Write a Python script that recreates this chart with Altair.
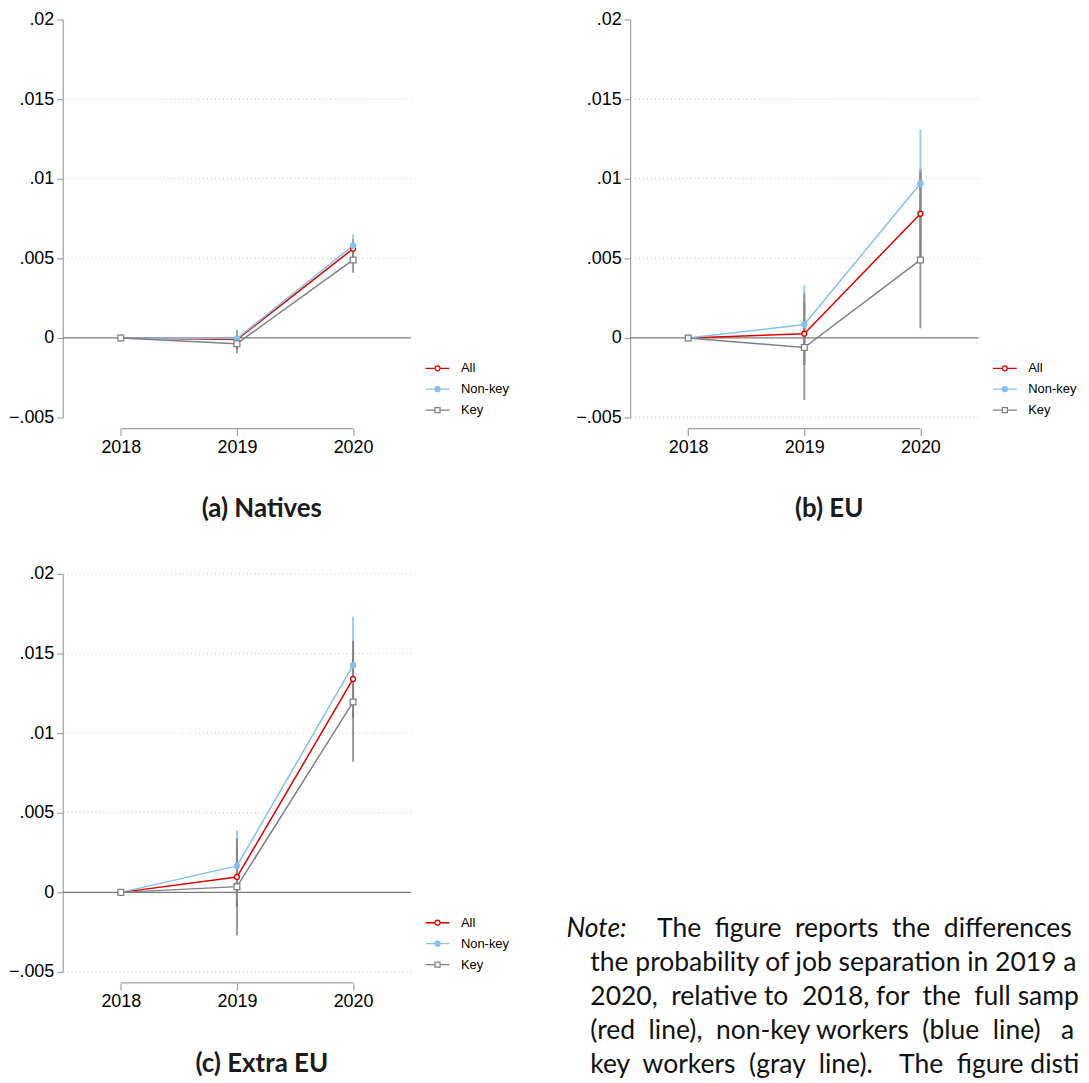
import altair as alt
import pandas as pd

YEARS = [2018, 2019, 2020]
SERIES = ["All", "Non-key", "Key"]
COLORS = ["#e00000", "#85c1ea", "#808080"]

# (a) Natives
NAT_ALL = [0.0, -0.0001, 0.0056]
NAT_ALL_LO = [0.0, -0.0007, 0.0050]
NAT_ALL_HI = [0.0, 0.0005, 0.0062]
NAT_NONKEY = [0.0, -0.00004, 0.0058]
NAT_NONKEY_LO = [0.0, -0.0006, 0.0051]
NAT_NONKEY_HI = [0.0, 0.0005, 0.0065]
NAT_KEY = [0.0, -0.00036, 0.0049]
NAT_KEY_LO = [0.0, -0.00095, 0.0041]
NAT_KEY_HI = [0.0, 0.0002, 0.0057]
NAT_GRID = [0.005, 0.01, 0.015]

# (b) EU
EU_ALL = [0.0, 0.00027, 0.0078]
EU_ALL_LO = [0.0, -0.0017, 0.0050]
EU_ALL_HI = [0.0, 0.0022, 0.0106]
EU_NONKEY = [0.0, 0.00084, 0.0097]
EU_NONKEY_LO = [0.0, -0.0016, 0.0063]
EU_NONKEY_HI = [0.0, 0.0033, 0.0131]
EU_KEY = [0.0, -0.0006, 0.0049]
EU_KEY_LO = [0.0, -0.0039, 0.0006]
EU_KEY_HI = [0.0, 0.0028, 0.0104]
EU_GRID = [-0.005, 0.005, 0.01, 0.015]

# (c) Extra EU
XEU_ALL = [0.0, 0.00096, 0.0134]
XEU_ALL_LO = [0.0, -0.0009, 0.0110]
XEU_ALL_HI = [0.0, 0.0028, 0.0157]
XEU_NONKEY = [0.0, 0.00166, 0.01426]
XEU_NONKEY_LO = [0.0, -0.0006, 0.0113]
XEU_NONKEY_HI = [0.0, 0.0039, 0.0173]
XEU_KEY = [0.0, 0.00036, 0.01195]
XEU_KEY_LO = [0.0, -0.0027, 0.0082]
XEU_KEY_HI = [0.0, 0.0034, 0.0158]
XEU_GRID = [-0.005, 0.005, 0.01, 0.015, 0.02]

Y_TICKS = [-0.005, 0.0, 0.005, 0.01, 0.015, 0.02]
TITLES = ["(a) Natives", "(b) EU", "(c) Extra EU"]

NB = "\u00a0"
NOTE_HEAD = "Note:"
NOTE_LINE1 = ["The", "figure", "reports", "the", "differences", "in"]
NOTE_LINE1_GAPS = [2, 2, 2, 2, 2]
NOTE_LINES = [
    ["the", "probability", "of", "job", "separation", "in", "2019", "and"],
    ["2020,", "relative", "to", "2018,", "for", "the", "full", "sample"],
    ["(red", "line),", "non-key", "workers", "(blue", "line)", "and"],
    ["key", "workers", "(gray", "line).", "The", "figure", "distinguishes"],
]
NOTE_GAPS = [
    [1, 1, 1, 1, 1, 1, 1],
    [2, 1, 2, 1, 2, 2, 1],
    [2, 2, 1, 2, 2, 3],
    [2, 2, 2, 4, 2, 1],
]

W, H = 350, 400
AXC = "#a0a0a0"
TICK_FONT = "Liberation Sans"


def make_df(est, lo, hi):
    rows = []
    for s, e, l, h in zip(SERIES, est, lo, hi):
        for yr, ev, lv, hv in zip(YEARS, e, l, h):
            rows.append({"year": yr, "series": s, "est": ev, "lo": lv, "hi": hv})
    return pd.DataFrame(rows)


xs = alt.Scale(domain=[2017.5, 2020.5], nice=False, zero=False)
ys = alt.Scale(domain=[-0.005, 0.02], nice=False, zero=False)
cs = alt.Scale(domain=SERIES, range=COLORS)

LINE = "M-2.4,0H-0.55M0.55,0H2.4"
CIRC = "M0.5,0A0.5,0.5,0,1,1,-0.5,0A0.5,0.5,0,1,1,0.5,0Z"
DISK = ("M-2.4,0H2.4M0.5,0A0.5,0.5,0,1,1,-0.5,0A0.5,0.5,0,1,1,0.5,0Z"
        "M0.28,0A0.28,0.28,0,1,1,-0.28,0A0.28,0.28,0,1,1,0.28,0Z"
        "M0.08,0A0.08,0.08,0,1,1,-0.08,0A0.08,0.08,0,1,1,0.08,0Z")
SQR = "M-0.5,-0.5H0.5V0.5H-0.5Z"
PATHS = [LINE + CIRC, DISK, LINE + SQR]

LEGEND = alt.Legend(
    orient="none", legendX=370, legendY=344, title=None,
    labelFont=TICK_FONT, labelFontSize=13, labelColor="black",
    symbolSize=100, symbolStrokeWidth=1.3, symbolFillColor="white",
    symbolOpacity=1, labelOffset=17, rowPadding=7, padding=0,
)
YAXIS = alt.Axis(
    values=Y_TICKS, format=".3~f", labelExpr="replace(datum.label, '0.', '.')",
    grid=False, domainColor=AXC, domainWidth=1.2, tickColor=AXC, tickWidth=1.2,
    tickSize=6, labelFont=TICK_FONT, labelFontSize=18, labelColor="black",
    labelPadding=3, title=None,
)
XAXIS = alt.Axis(
    values=YEARS, format="d", offset=11, domain=False, grid=False,
    tickColor=AXC, tickWidth=1.2, tickSize=7, labelFont=TICK_FONT,
    labelFontSize=18, labelColor="black", labelPadding=3, title=None,
)


def yenc(f):
    return alt.Y(f, scale=ys, axis=YAXIS)


def xenc(f):
    return alt.X(f, scale=xs, axis=XAXIS)


C = alt.Color("series:N", scale=cs, legend=LEGEND)


def panel(df, grid, title):
    grid_l = alt.Chart(pd.DataFrame({"g": grid})).mark_rule(
        strokeDash=[1, 3], color="#c4c4c4", strokeWidth=1
    ).encode(y=yenc("g:Q"))
    zero_l = alt.Chart(pd.DataFrame({"z": [0.0]})).mark_rule(
        color="#7a7a7a", strokeWidth=1.3
    ).encode(y=yenc("z:Q"))
    xline = alt.Chart(pd.DataFrame({"a": [YEARS[0]], "b": [YEARS[-1]]})).mark_rule(
        color=AXC, strokeWidth=1.2
    ).encode(x=xenc("a:Q"), x2="b:Q", y=alt.value(H + 11))

    base = alt.Chart(df)
    X = xenc("year:Q")
    Y = yenc("est:Q")
    ci = base.mark_rule(strokeWidth=2, opacity=0.8).encode(
        x=X, y=yenc("lo:Q"), y2="hi:Q", color=C
    )
    lines = base.mark_line(strokeWidth=1.5).encode(x=X, y=Y, color=C)
    p_all = base.transform_filter(alt.datum.series == "All").mark_point(
        shape="circle", filled=False, fill="white", size=24, strokeWidth=1.4, opacity=1
    ).encode(x=X, y=Y, color=C)
    p_non = base.transform_filter(alt.datum.series == "Non-key").mark_point(
        shape="circle", filled=False, fill=COLORS[1], size=34, strokeWidth=1, opacity=1
    ).encode(x=X, y=Y, color=C)
    p_key = base.transform_filter(alt.datum.series == "Key").mark_point(
        shape="square", filled=False, fill="white", size=34, strokeWidth=1.3, opacity=1
    ).encode(x=X, y=Y, color=C)
    leg = base.transform_filter("false").mark_point(
        filled=False, fill="white", strokeWidth=1.3, opacity=1
    ).encode(
        x=X, y=Y,
        shape=alt.Shape("series:N", scale=alt.Scale(domain=SERIES, range=PATHS), legend=LEGEND),
        color=C,
    )
    return alt.layer(grid_l, zero_l, xline, ci, lines, p_all, p_non, p_key, leg).properties(
        width=W, height=H,
        title=alt.TitleParams(
            text=title, orient="bottom", anchor="middle", frame="group", dx=25,
            offset=40, font="Lato", fontSize=26, fontWeight="bold", color="#1a1a1a",
        ),
    )


pa = panel(make_df([NAT_ALL, NAT_NONKEY, NAT_KEY], [NAT_ALL_LO, NAT_NONKEY_LO, NAT_KEY_LO],
                   [NAT_ALL_HI, NAT_NONKEY_HI, NAT_KEY_HI]), NAT_GRID, TITLES[0])
pb = panel(make_df([EU_ALL, EU_NONKEY, EU_KEY], [EU_ALL_LO, EU_NONKEY_LO, EU_KEY_LO],
                   [EU_ALL_HI, EU_NONKEY_HI, EU_KEY_HI]), EU_GRID, TITLES[1])
pc = panel(make_df([XEU_ALL, XEU_NONKEY, XEU_KEY], [XEU_ALL_LO, XEU_NONKEY_LO, XEU_KEY_LO],
                   [XEU_ALL_HI, XEU_NONKEY_HI, XEU_KEY_HI]), XEU_GRID, TITLES[2])


def join(words, gaps):
    out = words[0]
    for w, g in zip(words[1:], gaps):
        out += " " + NB * (g - 1) + w
    return out


# right edge of the visible note text, in the note view's coordinates
NOTE_RIGHT = 455
note_src = alt.Chart(pd.DataFrame({"k": [0]}))
TXT = dict(align="left", baseline="top", font="Lato", fontSize=26.6, color="#111111",
           ellipsis="\u200b")
n_head = note_src.mark_text(fontStyle="italic", **TXT).encode(
    x=alt.value(-64), y=alt.value(344), text=alt.value(NOTE_HEAD))
n_first = note_src.mark_text(limit=NOTE_RIGHT - 27, **TXT).encode(
    x=alt.value(27), y=alt.value(344), text=alt.value(join(NOTE_LINE1, NOTE_LINE1_GAPS)))
n_rest = note_src.mark_text(lineHeight=34, limit=NOTE_RIGHT + 40, **TXT).encode(
    x=alt.value(-40), y=alt.value(378),
    text=alt.value([join(l, g) for l, g in zip(NOTE_LINES, NOTE_GAPS)]))
note = alt.layer(n_head, n_first, n_rest).properties(width=W, height=H)

chart = alt.concat(
    pa, pb, pc, note, columns=2, bounds="flush",
    spacing={"row": 157, "column": 220},
).resolve_scale(
    color="independent", shape="independent"
).properties(
    padding={"left": 0, "top": 0, "right": 0, "bottom": 0}
).configure_view(stroke=None)

chart.save("out.html", embed_options={"renderer": "svg", "actions": False})
